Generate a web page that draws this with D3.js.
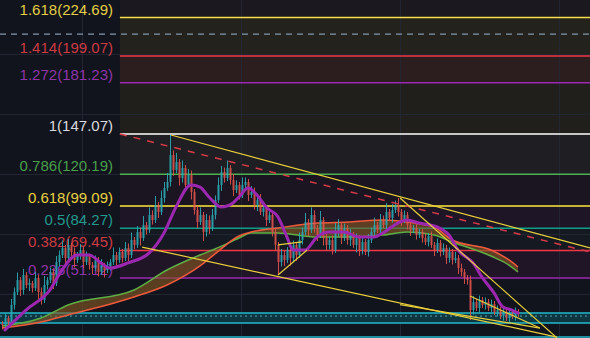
<!DOCTYPE html>
<html>
<head>
<meta charset="utf-8">
<script src="https://cdn.jsdelivr.net/npm/d3@7"></script>
<style>
html, body { margin: 0; padding: 0; background: #11141c; overflow: hidden; }
</style>
</head>
<body>
<div id="chart"></div>
<script>
var W = 590, H = 338;

// price data (one candle per bar, open = previous close)
var firstOpen = 20.4;
var closes = [
  19.7, 24.4, 21.7, 33.1, 41.7, 49.7, 43.1, 53.1, 46.4, 47.7,
  44.4, 51.1, 41.7, 36.4, 46.4, 49.7, 55.1, 47.7, 61.7, 66.4,
  71.1, 64.4, 73.1, 68.4, 63.1, 66.4, 69.7, 61.7, 65.7, 59.7,
  57.7, 63.1, 55.1, 59.7, 56.4, 59.1, 61.7, 66.4, 63.1, 68.4,
  64.4, 71.1, 66.4, 76.4, 73.1, 81.7, 77.7, 86.4, 83.1, 93.1,
  89.7, 99.7, 95.1, 104.4, 111.1, 115.1, 133.1, 123.1, 128.4, 117.7,
  124.4, 113.1, 119.7, 108.4, 96.4, 88.4, 93.1, 81.7, 89.7, 84.4,
  93.1, 103.1, 113.1, 121.7, 117.7, 124.4, 116.4, 109.7, 113.1, 106.4,
  113.1, 115.1, 106.4, 108.4, 99.7, 103.1, 95.1, 97.7, 89.7, 93.1,
  81.7, 73.1, 61.7, 66.4, 63.1, 69.7, 64.4, 73.1, 66.4, 76.4,
  81.7, 88.4, 83.1, 93.1, 84.4, 79.7, 89.7, 77.7, 73.1, 76.4,
  69.7, 81.7, 86.4, 77.7, 84.4, 76.4, 79.7, 73.1, 77.7, 69.7,
  75.1, 68.4, 76.4, 81.7, 86.4, 83.1, 89.7, 86.4, 95.1, 91.1,
  96.4, 99.7, 95.1, 89.7, 93.1, 86.4, 83.1, 84.4, 79.7, 81.7,
  77.7, 75.1, 79.1, 73.1, 69.7, 74.4, 68.4, 71.1, 64.4, 68.4,
  63.1, 64.4, 57.7, 55.1, 51.1, 49.7, 29.7, 35.1, 31.1, 36.4,
  33.1, 35.1, 31.1, 33.7, 28.4, 29.7, 25.7, 28.4, 24.4, 27.1,
  25.7, 28.4, 27.1
];
var wickUp = [
  2, 3, 1.5, 4, 3, 5, 2, 4, 2, 3,
  1.5, 4, 2, 3, 6, 2, 3, 2.5, 4, 3,
  5, 2, 4, 1.5, 3, 2, 4, 2, 3, 1.5,
  2, 3, 2, 4, 1.5, 3, 2, 5, 2, 3,
  2, 4, 3, 5, 2, 4, 3, 6, 2, 5,
  3, 6, 2, 5, 4, 6, 13.3, 3, 6, 2,
  5, 2, 4, 3, 2, 3, 5, 2, 4, 3,
  4, 3, 5, 4, 3, 5, 2, 4, 3, 2,
  5, 3, 2, 4, 3, 2, 4, 3, 2, 3,
  2, 3, 2, 4, 3, 2, 4, 3, 2, 5,
  3, 6, 2, 5, 3, 2, 6, 2, 3, 2,
  3, 6, 4, 2, 3, 2, 4, 2, 3, 2,
  3, 2, 4, 3, 5, 2, 4, 3, 6, 2,
  4, 3, 4.7, 2, 3, 2, 3, 2, 4, 2,
  2, 3, 2, 3, 2, 3, 2, 3, 2, 3,
  2, 4, 2, 3, 2, 2, 3, 4, 2, 3,
  2, 3, 2, 3, 2, 3, 2, 3, 2, 3,
  2, 3, 2
];
var wickDn = [
  3, 2, 4, 2, 3, 2, 4, 3, 2, 4,
  3, 2, 5, 3, 2, 3, 2, 4, 2, 3,
  2, 4, 2, 3, 5, 2, 3, 4, 2, 3,
  4, 2, 3, 2, 5, 2, 3, 2, 4, 2,
  3, 2, 4, 2, 3, 2, 5, 2, 3, 2,
  3, 2, 4, 2, 3, 2, 3, 4, 2, 5,
  3, 4, 2, 5, 3, 4, 2, 6, 3, 4,
  2, 3, 2, 4, 3, 2, 3, 4, 2, 3,
  2, 3, 4, 2, 3, 4, 2, 3, 4, 2,
  3, 4, 8.6, 3, 4, 2, 5, 3, 4, 2,
  3, 2, 4, 2, 3, 4, 2, 5, 4, 3,
  3, 2, 3, 4, 2, 3, 4, 2, 5, 4,
  3, 2, 3, 2, 3, 2, 3, 2, 3, 2,
  3, 2, 3, 4, 2, 3, 4, 2, 3, 2,
  3, 2, 3, 2, 4, 2, 3, 2, 4, 3,
  3, 2, 4, 3, 4, 3, 6.6, 3, 2, 3,
  2, 3, 2, 3, 2, 3, 2, 3, 2, 3,
  2, 3, 2
];

// moving averages: [bar index, price]
var maFast = [
  [1, 16.4], [8, 29.7], [16, 43.1], [20, 56.4], [25, 66.4], [29, 66.4], [33, 61.1],
  [36, 57.7], [42, 61.1], [49, 67.7], [54, 81.1], [58, 98.4], [63, 113.1], [66, 111.7],
  [69, 105.1], [73, 98.4], [77, 101.1], [79, 105.1], [82, 111.1], [85, 106.4], [88, 98.4],
  [92, 91.7], [95, 78.4], [97, 69.7], [101, 69.7], [105, 78.4], [109, 81.7], [114, 81.7],
  [119, 78.4], [124, 78.4], [127, 81.1], [132, 87.7], [135, 89.7], [139, 87.7], [145, 85.1],
  [149, 79.7], [152, 69.7], [157, 61.1], [160, 51.7], [164, 41.1], [167, 31.7], [170, 29.7],
  [172, 27.7]
];
var maIdx   = [0, 13, 22, 44, 55, 66, 71, 79, 83, 92, 105, 116, 127, 135, 144, 150, 163, 169, 172];
var maRed   = [17.7, 21.7, 26.4, 38.4, 46.4, 59.1, 67.1, 79.1, 81.7, 84.4, 87.7, 88.4, 89.7, 88.4, 85.1, 76.4, 69.7, 63.1, 58.4];
var maGreen = [19.1, 24.4, 33.1, 43.1, 56.4, 66.4, 70.4, 77.7, 81.1, 81.1, 78.4, 78.4, 79.7, 81.7, 79.7, 75.1, 65.7, 59.7, 55.1];

// fibonacci retracement
var fibStart = 39.3;
var fibLevels = ["1.618", "1.414", "1.272", "1", "0.786", "0.618", "0.5", "0.382", "0.236"];
var fibPrices = [224.69, 199.07, 181.23, 147.07, 120.19, 99.09, 84.27, 69.45, 51.12];
var fibLine   = ["#f5e04a", "#f23645", "#9c27b0", "#ffffff", "#4caf50", "#ffeb3b", "#0f9d8a", "#f23645", "#9c27b0"];
var fibText   = ["#e3cf45", "#cc3a44", "#8e35a8", "#d9dadf", "#4a9f4d", "#e8d240", "#22998c", "#cc3a44", "#8e35a8"];
var fibBands  = ["#1c1820", "#23221d", "#2c1e1f", "#201f1c", "#1f1e23", "#1b1521", "#1e1626", "#151a22", "#1f1527"];

// horizontal zone at the bottom
var zoneTop = 27.7, zoneMid = 25.7, zoneBottom = 21.07, floorLine = 11.7;
var alertLine = 213.7;

// drawings: [i1, p1, i2, p2]
var yellowLines = [
  [56.3, 146.4, 196, 71.1],
  [46.7, 71.7, 185, 11.7],
  [132.7, 33.3, 179.3, 17.7],
  [132.7, 104.4, 185, 11.1],
  [156, 39.1, 179.3, 17.7],
  [92, 53.1, 101.7, 69.7],
  [92, 73.1, 100, 75.1]
];
var dashedRed = [39.3, 147.1, 196, 68.4];

var x = d3.scaleLinear().domain([0, 172]).range([2, 518]);
var y = d3.scaleLinear().domain([11.07, 236.4]).range([H, 0]);

var svg = d3.select("#chart").append("svg")
  .attr("width", W).attr("height", H)
  .style("display", "block")
  .style("background", "#11141c");

// fib bands
var bandEdges = [236.4].concat(fibPrices);
svg.append("g").selectAll("rect").data(fibBands).join("rect")
  .attr("x", x(fibStart))
  .attr("width", W - x(fibStart))
  .attr("y", function(d, i) { return y(bandEdges[i]); })
  .attr("height", function(d, i) { return y(bandEdges[i + 1]) - y(bandEdges[i]); })
  .attr("fill", function(d) { return d; });

// grid
var grid = svg.append("g").attr("stroke", "#222633").attr("stroke-width", 1);
[82, 241, 400, 559].forEach(function(gx) {
  grid.append("line").attr("x1", gx + 0.5).attr("x2", gx + 0.5).attr("y1", 0).attr("y2", H);
});
[54, 114, 174, 234, 294].forEach(function(gy) {
  grid.append("line").attr("x1", 0).attr("x2", W).attr("y1", gy + 0.5).attr("y2", gy + 0.5);
});

// zone
svg.append("rect")
  .attr("x", 0).attr("width", W)
  .attr("y", y(zoneTop)).attr("height", y(zoneBottom) - y(zoneTop))
  .attr("fill", "#0d3641");
[zoneTop, zoneBottom, floorLine].forEach(function(p) {
  svg.append("line").attr("x1", 0).attr("x2", W)
    .attr("y1", y(p)).attr("y2", y(p))
    .attr("stroke", "#22b8cc").attr("stroke-width", 1.5);
});
svg.append("line").attr("x1", 0).attr("x2", W)
  .attr("y1", y(zoneMid)).attr("y2", y(zoneMid))
  .attr("stroke", "#5aa7b4").attr("stroke-width", 1).attr("stroke-dasharray", "2,3");

// alert line
svg.append("line").attr("x1", 0).attr("x2", W)
  .attr("y1", y(alertLine)).attr("y2", y(alertLine))
  .attr("stroke", "#8396ab").attr("stroke-width", 1.2).attr("stroke-dasharray", "6,5");

// fib lines + labels
var fib = svg.append("g");
fib.selectAll("line").data(fibPrices).join("line")
  .attr("x1", x(fibStart)).attr("x2", W)
  .attr("y1", function(d) { return y(d); })
  .attr("y2", function(d) { return y(d); })
  .attr("stroke", function(d, i) { return fibLine[i]; })
  .attr("stroke-width", 1.5);
fib.selectAll("text").data(fibPrices).join("text")
  .attr("x", 113)
  .attr("y", function(d) { return y(d) - 3; })
  .attr("text-anchor", "end")
  .attr("font-family", "'Liberation Sans', Arial, sans-serif")
  .attr("font-size", 15)
  .attr("fill", function(d, i) { return fibText[i]; })
  .text(function(d, i) { return fibLevels[i] + "(" + d.toFixed(2) + ")"; });

// MA ribbon
var ribbon = maIdx.map(function(d, i) { return { i: d, r: maRed[i], g: maGreen[i] }; });
svg.append("path").datum(ribbon)
  .attr("fill", "#8a5a22").attr("fill-opacity", 0.6)
  .attr("d", d3.area().curve(d3.curveMonotoneX)
    .x(function(d) { return x(d.i); })
    .y0(function(d) { return y(d.r); })
    .y1(function(d) { return y(d.g); }));
svg.append("path").datum(ribbon)
  .attr("fill", "none").attr("stroke", "#5fae45").attr("stroke-width", 1.5)
  .attr("d", d3.line().curve(d3.curveMonotoneX)
    .x(function(d) { return x(d.i); }).y(function(d) { return y(d.g); }));
svg.append("path").datum(ribbon)
  .attr("fill", "none").attr("stroke", "#ef5a3c").attr("stroke-width", 1.5)
  .attr("d", d3.line().curve(d3.curveMonotoneX)
    .x(function(d) { return x(d.i); }).y(function(d) { return y(d.r); }));

// candles
var candles = closes.map(function(c, i) {
  var o = i === 0 ? firstOpen : closes[i - 1];
  return { i: i, o: o, c: c, h: Math.max(o, c) + wickUp[i], l: Math.min(o, c) - wickDn[i] };
});
var cg = svg.append("g").selectAll("g").data(candles).join("g")
  .attr("opacity", 0.9);
cg.append("line")
  .attr("x1", function(d) { return x(d.i) + 0.5; })
  .attr("x2", function(d) { return x(d.i) + 0.5; })
  .attr("y1", function(d) { return y(d.h); })
  .attr("y2", function(d) { return y(d.l); })
  .attr("stroke", function(d) { return d.c >= d.o ? "#2aaab5" : "#e0524c"; })
  .attr("stroke-width", 1);
cg.append("rect")
  .attr("x", function(d) { return x(d.i) - 0.5; })
  .attr("width", 2)
  .attr("y", function(d) { return y(Math.max(d.o, d.c)); })
  .attr("height", function(d) { return Math.max(1, Math.abs(y(d.o) - y(d.c))); })
  .attr("fill", function(d) { return d.c >= d.o ? "#2aaab5" : "#e0524c"; });

// fast MA
svg.append("path").datum(maFast)
  .attr("fill", "none").attr("stroke", "#9c27b0").attr("stroke-width", 3)
  .attr("stroke-linecap", "round")
  .attr("d", d3.line().curve(d3.curveMonotoneX)
    .x(function(d) { return x(d[0]); }).y(function(d) { return y(d[1]); }));

// drawings
svg.append("line")
  .attr("x1", x(dashedRed[0])).attr("y1", y(dashedRed[1]))
  .attr("x2", x(dashedRed[2])).attr("y2", y(dashedRed[3]))
  .attr("stroke", "#d83b47").attr("stroke-width", 1.5).attr("stroke-dasharray", "7,7");
svg.append("g").selectAll("line").data(yellowLines).join("line")
  .attr("x1", function(d) { return x(d[0]); })
  .attr("y1", function(d) { return y(d[1]); })
  .attr("x2", function(d) { return x(d[2]); })
  .attr("y2", function(d) { return y(d[3]); })
  .attr("stroke", "#e8cf3a").attr("stroke-width", 1.2);
</script>
</body>
</html>
